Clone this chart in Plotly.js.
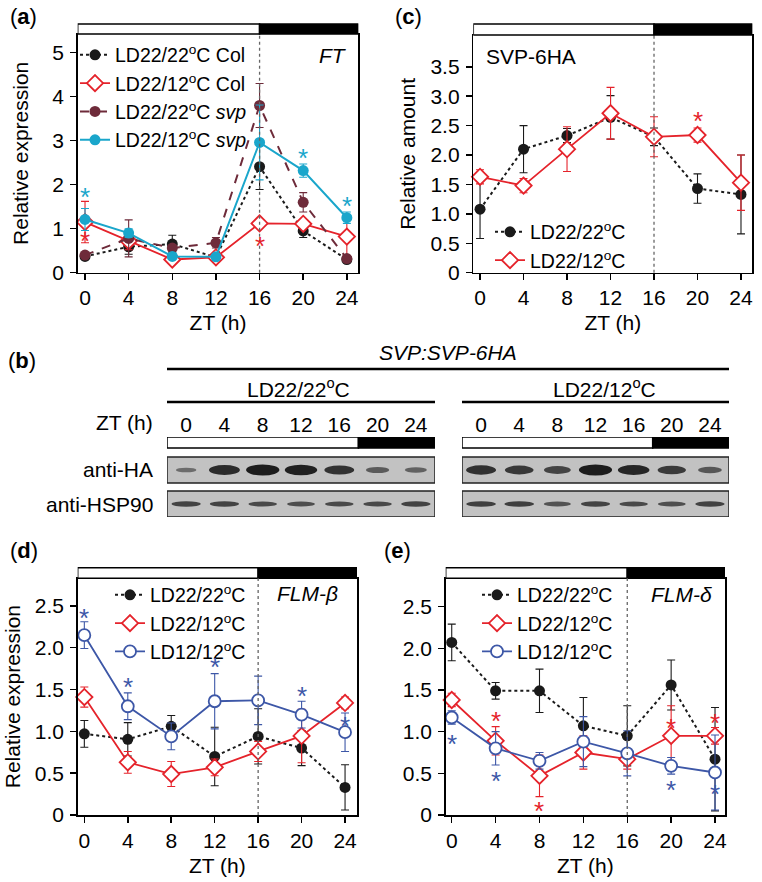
<!DOCTYPE html>
<html><head><meta charset="utf-8">
<script src="https://cdn.plot.ly/plotly-3.0.1.min.js"></script>
<style>html,body{margin:0;padding:0;background:#fff}#chart{width:762px;height:882px}</style>
</head><body><div id="chart"></div>
<script>
// ---------------- data ----------------
const zt = [0, 4, 8, 12, 16, 20, 24];
const ztLabels = ['0', '4', '8', '12', '16', '20', '24'];

// (a) FT relative expression
const ftCol22 = [0.37, 0.59, 0.65, 0.35, 2.41, 0.95, 0.30];
const ftCol22Err = [0.05, 0.17, 0.2, 0.05, 0.52, 0.15, 0.05];
const ftCol12 = [1.15, 0.72, 0.30, 0.35, 1.12, 1.11, 0.82];
const ftCol12Err = [0.47, 0.2, 0.05, 0.05, 0.05, 0.1, 0.45];
const ftSvp22 = [0.40, 0.78, 0.56, 0.68, 3.80, 1.60, 0.32];
const ftSvp22Err = [0.05, 0.42, 0.05, 0.12, 0.5, 0.22, 0.05];
const ftSvp12 = [1.21, 0.90, 0.37, 0.36, 2.96, 2.32, 1.25];
const ftSvp12Err = [0.25, 0.1, 0.05, 0.05, 0.85, 0.15, 0.13];
const starA_cyanX = [0, 20, 24], starA_cyanY = [1.86, 2.75, 1.65];
const starA_redX = [0, 16], starA_redY = [0.86, 0.74];

// (c) SVP-6HA relative amount
const svp22 = [1.08, 2.10, 2.33, 2.64, 2.31, 1.43, 1.33];
const svp22Err = [0.5, 0.4, 0.12, 0.37, 0.15, 0.25, 0.67];
const svp12 = [1.63, 1.48, 2.10, 2.71, 2.31, 2.34, 1.53];
const svp12Err = [0.12, 0.12, 0.38, 0.44, 0.34, 0.12, 0.47];
const starC_redX = [20], starC_redY = [2.68];

// (d) FLM-beta
const betaLD22 = [0.97, 0.905, 1.06, 0.70, 0.94, 0.80, 0.33];
const betaLD22Err = [0.16, 0.2, 0.13, 0.35, 0.33, 0.21, 0.27];
const betaLD2212 = [1.41, 0.63, 0.49, 0.57, 0.76, 0.945, 1.34];
const betaLD2212Err = [0.12, 0.13, 0.15, 0.1, 0.12, 0.32, 0.07];
const betaLD12 = [2.15, 1.30, 0.94, 1.36, 1.37, 1.20, 0.99];
const betaLD12Err = [0.16, 0.16, 0.16, 0.33, 0.29, 0.16, 0.23];
const starD_blueX = [0, 4, 12, 20, 24], starD_blueY = [2.43, 1.60, 1.84, 1.50, 1.13];

// (e) FLM-delta
const deltaLD22 = [2.07, 1.49, 1.49, 1.07, 0.95, 1.56, 0.67];
const deltaLD22Err = [0.22, 0.1, 0.26, 0.34, 0.36, 0.3, 0.62];
const deltaLD2212 = [1.38, 0.89, 0.47, 0.75, 0.67, 0.95, 0.95];
const deltaLD2212Err = [0.08, 0.17, 0.25, 0.2, 0.12, 0.36, 0.1];
const deltaLD12 = [1.17, 0.80, 0.65, 0.88, 0.74, 0.59, 0.51];
const deltaLD12Err = [0.08, 0.2, 0.1, 0.3, 0.27, 0.1, 0.45];
const starE_redX = [4, 8, 20, 24], starE_redY = [1.2, 0.12, 1.12, 1.17];
const starE_blueX = [0, 4, 20, 24], starE_blueY = [0.92, 0.48, 0.37, 0.33];

// (b) western blot band intensities (0..1), per lane ZT 0..24
const haLD22 = [0.2, 0.85, 1.0, 0.95, 0.78, 0.38, 0.3];
const haLD12 = [0.8, 0.72, 0.6, 1.0, 0.9, 0.7, 0.42];
const hspLD22 = [0.6, 0.6, 0.55, 0.5, 0.55, 0.55, 0.62];
const hspLD12 = [0.65, 0.65, 0.45, 0.6, 0.55, 0.5, 0.62];

// ---------------- helpers ----------------
const W = 762, H = 882;
const px = v => v / W, py = v => 1 - v / H;
const FONT = 'Liberation Sans, Arial, sans-serif';
const BLACK = '#1a1a1a', RED = '#e5232b', CYAN = '#1aa6cb', MAROON = '#6e2b3a', BLUE = '#3d57a7';

const STY = {
  black: {line: {color: BLACK, width: 2, dash: 'dot'}, marker: {symbol: 'circle', size: 11, color: BLACK}, ec: BLACK},
  red: {line: {color: RED, width: 1.8}, marker: {symbol: 'diamond', size: 12.5, color: 'white', line: {color: RED, width: 1.8}}, ec: RED},
  maroon: {line: {color: MAROON, width: 2, dash: 'dash'}, marker: {symbol: 'circle', size: 11, color: MAROON}, ec: MAROON},
  cyan: {line: {color: CYAN, width: 2}, marker: {symbol: 'circle', size: 11, color: CYAN}, ec: CYAN},
  blue: {line: {color: BLUE, width: 1.8}, marker: {symbol: 'circle', size: 12, color: 'white', line: {color: BLUE, width: 1.8}}, ec: BLUE}
};

function series(xa, ya, name, y, err, s, legend) {
  return {
    type: 'scatter', mode: 'lines+markers', x: zt, y: y, name: name,
    xaxis: xa, yaxis: ya, legend: legend, cliponaxis: false,
    line: s.line, marker: s.marker,
    error_y: {type: 'data', array: err, visible: true, color: s.ec, thickness: 1.1, width: 4}
  };
}
const traces = [
  series('x', 'y', 'LD22/22<sup>o</sup>C Col', ftCol22, ftCol22Err, STY.black, 'legend'),
  series('x', 'y', 'LD22/12<sup>o</sup>C Col', ftCol12, ftCol12Err, STY.red, 'legend'),
  series('x', 'y', 'LD22/22<sup>o</sup>C <i>svp</i>', ftSvp22, ftSvp22Err, STY.maroon, 'legend'),
  series('x', 'y', 'LD22/12<sup>o</sup>C <i>svp</i>', ftSvp12, ftSvp12Err, STY.cyan, 'legend'),
  series('x2', 'y2', 'LD22/22<sup>o</sup>C', svp22, svp22Err, STY.black, 'legend2'),
  series('x2', 'y2', 'LD22/12<sup>o</sup>C', svp12, svp12Err, STY.red, 'legend2'),
  series('x3', 'y3', 'LD22/22<sup>o</sup>C', betaLD22, betaLD22Err, STY.black, 'legend3'),
  series('x3', 'y3', 'LD22/12<sup>o</sup>C', betaLD2212, betaLD2212Err, STY.red, 'legend3'),
  series('x3', 'y3', 'LD12/12<sup>o</sup>C', betaLD12, betaLD12Err, STY.blue, 'legend3'),
  series('x4', 'y4', 'LD22/22<sup>o</sup>C', deltaLD22, deltaLD22Err, STY.black, 'legend4'),
  series('x4', 'y4', 'LD22/12<sup>o</sup>C', deltaLD2212, deltaLD2212Err, STY.red, 'legend4'),
  series('x4', 'y4', 'LD12/12<sup>o</sup>C', deltaLD12, deltaLD12Err, STY.blue, 'legend4')
];
// empty traces to create the blot axes
traces.push({type: 'scatter', x: [], y: [], xaxis: 'x5', yaxis: 'y5', showlegend: false});
traces.push({type: 'scatter', x: [], y: [], xaxis: 'x6', yaxis: 'y6', showlegend: false});

const annotations = [];
function stars(xr, yr, xs, ys, color) {
  xs.forEach((x, i) => annotations.push({x: x, y: ys[i], xref: xr, yref: yr, text: '*', showarrow: false,
    font: {size: 26, color: color, family: FONT}, yshift: -6}));
}
stars('x', 'y', starA_cyanX, starA_cyanY, CYAN);
stars('x', 'y', starA_redX, starA_redY, RED);
stars('x2', 'y2', starC_redX, starC_redY, RED);
stars('x3', 'y3', starD_blueX, starD_blueY, BLUE);
stars('x4', 'y4', starE_redX, starE_redY, RED);
stars('x4', 'y4', starE_blueX, starE_blueY, BLUE);

function txt(x, y, text, size, anchor, extra) {
  annotations.push(Object.assign({x: px(x), y: py(y), xref: 'paper', yref: 'paper', text: text, showarrow: false,
    xanchor: anchor || 'center', yanchor: 'middle', font: {size: size, color: '#000', family: FONT}}, extra || {}));
}
txt(8, 17, '(<b>a</b>)', 22, 'left');
txt(393, 17, '(<b>c</b>)', 22, 'left');
txt(6, 360, '(<b>b</b>)', 22, 'left');
txt(8, 550, '(<b>d</b>)', 22, 'left');
txt(382, 550, '(<b>e</b>)', 22, 'left');
txt(333, 55, '<i>FT</i>', 21);
txt(531, 56, 'SVP-6HA', 21);
txt(307, 593, '<i>FLM-β</i>', 21);
txt(681, 594, '<i>FLM-δ</i>', 21);
// blot labels
txt(448, 352, '<i>SVP:SVP-6HA</i>', 21);
txt(298, 388, 'LD22/22<sup>o</sup>C', 21);
txt(604, 388, 'LD22/12<sup>o</sup>C', 21);
txt(155, 422, 'ZT (h)', 21, 'right');
txt(155, 470, 'anti-HA', 21, 'right');
txt(155, 504, 'anti-HSP90', 21, 'right');

// ---------------- shapes ----------------
const shapes = [];
function dayBar(xr, yr, xmin, xmax, top, bot) {
  shapes.push({type: 'rect', xref: xr, yref: 'paper', x0: xmin, x1: 16, y0: py(bot), y1: py(top),
    fillcolor: 'white', line: {color: '#000', width: 1.5}});
  shapes.push({type: 'rect', xref: xr, yref: 'paper', x0: 16, x1: xmax, y0: py(bot), y1: py(top),
    fillcolor: '#000', line: {color: '#000', width: 1.5}});
  shapes.push({type: 'line', xref: xr, yref: yr + ' domain', x0: 16, x1: 16, y0: 0, y1: 1,
    line: {color: '#666', width: 1.3, dash: 'dot'}});
}
const XR = {a: [-0.67, 25.05], c: [-0.62, 25.04], d: [-0.61, 25.1], e: [-0.55, 24.91]};
dayBar('x', 'y', XR.a[0], XR.a[1], 24, 34);
dayBar('x2', 'y2', XR.c[0], XR.c[1], 24, 35);
dayBar('x3', 'y3', XR.d[0], XR.d[1], 567.7, 578.3);
dayBar('x4', 'y4', XR.e[0], XR.e[1], 567.7, 578.3);

// blot panel (b): y5/y6 range 0..80 (px-like), lanes 0..6
function blotPanel(xr, yr, ha, hsp) {
  shapes.push({type: 'rect', xref: xr, yref: yr, x0: -0.5, x1: 4.5, y0: 69, y1: 80, fillcolor: 'white', line: {color: '#000', width: 1.5}});
  shapes.push({type: 'rect', xref: xr, yref: yr, x0: 4.5, x1: 6.5, y0: 69, y1: 80, fillcolor: '#000', line: {color: '#000', width: 1.5}});
  shapes.push({type: 'rect', xref: xr, yref: yr, x0: -0.5, x1: 6.5, y0: 34, y1: 60, fillcolor: '#c2c2c2', line: {color: '#222', width: 1.5}});
  shapes.push({type: 'rect', xref: xr, yref: yr, x0: -0.5, x1: 6.5, y0: 0, y1: 26, fillcolor: '#c2c2c2', line: {color: '#222', width: 1.5}});
  ha.forEach((v, i) => {
    const w = 0.45 + 0.42 * v, h = 3 + 8 * v;
    shapes.push({type: 'circle', xref: xr, yref: yr, x0: i - w / 2, x1: i + w / 2, y0: 47 - h / 2, y1: 47 + h / 2,
      fillcolor: '#1c1c1c', opacity: 0.4 + 0.6 * v, line: {width: 0}});
  });
  hsp.forEach((v, i) => {
    const w = 0.55 + 0.35 * v, h = 3 + 4 * v;
    shapes.push({type: 'circle', xref: xr, yref: yr, x0: i - w / 2, x1: i + w / 2, y0: 13 - h / 2, y1: 13 + h / 2,
      fillcolor: '#1c1c1c', opacity: 0.4 + 0.6 * v, line: {width: 0}});
  });
  shapes.push({type: 'line', xref: xr, yref: 'paper', x0: -0.5, x1: 6.5, y0: py(402), y1: py(402), line: {color: '#000', width: 2.5}});
}
blotPanel('x5', 'y5', haLD22, hspLD22);
blotPanel('x6', 'y6', haLD12, hspLD12);
shapes.push({type: 'line', xref: 'paper', yref: 'paper', x0: px(167), x1: px(729), y0: py(369), y1: py(369), line: {color: '#000', width: 2.5}});

// ---------------- axes ----------------
const base = {showline: true, mirror: true, linecolor: '#000', linewidth: 1.5, ticks: 'outside', ticklen: 6, tickwidth: 1.5,
  tickcolor: '#000', showgrid: false, zeroline: false, tickfont: {size: 21, color: '#000', family: FONT}, fixedrange: true};
function xa(dom, range, anchor) {
  return Object.assign({}, base, {domain: dom, range: range, anchor: anchor, tickvals: zt, ticktext: ztLabels,
    title: {text: 'ZT (h)', font: {size: 21, color: '#000', family: FONT}, standoff: 7}});
}
function ya(dom, range, anchor, tv, tt, title, so) {
  return Object.assign({}, base, {domain: dom, range: range, anchor: anchor, tickvals: tv, ticktext: tt, ticklabelstandoff: 2,
    title: {text: title, font: {size: 21, color: '#000', family: FONT}, standoff: so}});
}
const tvA = [0, 1, 2, 3, 4, 5], ttA = ['0', '1', '2', '3', '4', '5'];
const tvC = [0, 0.5, 1, 1.5, 2, 2.5, 3, 3.5], ttC = ['0', '0.5', '1.0', '1.5', '2.0', '2.5', '3.0', '3.5'];
const tvD = [0, 0.5, 1, 1.5, 2, 2.5], ttD = ['0', '0.5', '1.0', '1.5', '2.0', '2.5'];

const legBase = {bgcolor: 'rgba(0,0,0,0)', borderwidth: 0, xanchor: 'left', yanchor: 'top', tracegroupgap: 0,
  font: {size: 19.5, color: '#000', family: FONT}, itemclick: false, itemdoubleclick: false};

const blotX = {showline: false, showgrid: false, zeroline: false, ticks: '', side: 'top', range: [-0.5, 6.5],
  tickvals: [0, 1, 2, 3, 4, 5, 6], ticktext: ztLabels, tickfont: {size: 21, color: '#000', family: FONT}, fixedrange: true};
const blotY = {visible: false, range: [0, 80], domain: [py(517), py(437)], fixedrange: true};

const layout = {
  width: W, height: H, margin: {l: 0, r: 0, t: 0, b: 0}, paper_bgcolor: 'white', plot_bgcolor: 'rgba(0,0,0,0)',
  font: {family: FONT, color: '#000'}, showlegend: true, hovermode: false,
  xaxis: xa([px(77.7), px(358.3)], XR.a, 'y'),
  yaxis: ya([py(272.7), py(34)], [0, 5.425], 'x', tvA, ttA, 'Relative expression', 18),
  xaxis2: xa([px(473.3), px(752.3)], XR.c, 'y2'),
  yaxis2: ya([py(272.7), py(35)], [0, 4.04], 'x2', tvC, ttC, 'Relative amount', 9),
  xaxis3: xa([px(77.7), px(357)], XR.d, 'y3'),
  yaxis3: ya([py(815), py(578.3)], [0, 2.83], 'x3', tvD, ttD, 'Relative expression', 8),
  xaxis4: xa([px(445.7), px(725)], XR.e, 'y4'),
  yaxis4: ya([py(815), py(578.3)], [0, 2.84], 'x4', tvD, ttD, '', 8),
  xaxis5: Object.assign({}, blotX, {domain: [px(167), px(435)], anchor: 'y5'}),
  yaxis5: Object.assign({}, blotY, {anchor: 'x5'}),
  xaxis6: Object.assign({}, blotX, {domain: [px(462), px(729)], anchor: 'y6'}),
  yaxis6: Object.assign({}, blotY, {anchor: 'x6'}),
  legend: Object.assign({}, legBase, {x: px(75), y: py(35.6)}),
  legend2: Object.assign({}, legBase, {x: px(490), y: py(212.6)}),
  legend3: Object.assign({}, legBase, {x: px(110), y: py(575.6)}),
  legend4: Object.assign({}, legBase, {x: px(477), y: py(575.6)}),
  shapes: shapes, annotations: annotations
};
Plotly.newPlot('chart', traces, layout, {staticPlot: true, displayModeBar: false});
</script></body></html>
